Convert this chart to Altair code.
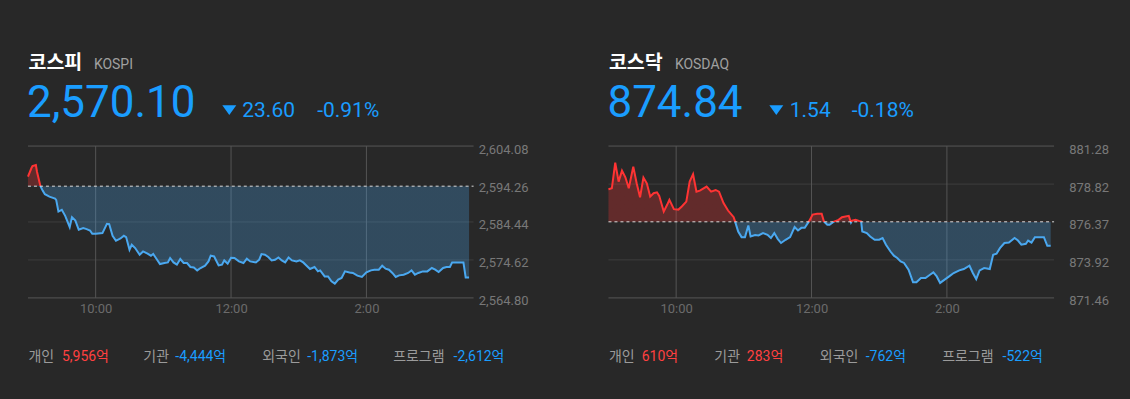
import altair as alt
import pandas as pd

BG = "#282828"
BLUE_TXT = "#1a9dff"
RED_TXT = "#ff4040"
LINE_RED = "#ff3333"
LINE_BLUE = "#4aa8f0"
NUM_FONT = "Roboto, 'Noto Sans CJK KR', sans-serif"
KR_FONT = "'Noto Sans CJK KR', sans-serif"

# ---------------- data ----------------
time_ticks = [60, 180, 300]
time_labels = ["10:00", "12:00", "2:00"]

kospi_min = [0, 3, 4, 7, 8, 11, 13, 15, 19, 24,
             25, 27, 30, 33, 37, 39, 42, 45, 49, 52,
             55, 57, 60, 66, 70, 72, 75, 78, 82, 85,
             87, 90, 92, 95, 99, 102, 106, 109, 111, 114,
             117, 121, 124, 126, 129, 132, 135, 138, 141, 144,
             147, 150, 153, 157, 160, 162, 165, 169, 172, 174,
             177, 180, 183, 187, 191, 194, 197, 202, 205, 207,
             210, 213, 216, 219, 222, 225, 228, 231, 234, 238,
             241, 244, 247, 250, 254, 257, 259, 263, 266, 269,
             272, 275, 278, 281, 285, 288, 292, 296, 300, 304,
             307, 311, 314, 317, 320, 323, 326, 329, 333, 337,
             340, 343, 346, 350, 354, 358, 361, 364, 368, 371,
             374, 376, 380, 386, 388, 391]
kospi_val = [2596.16, 2598.33, 2598.92, 2599.18, 2597.45, 2593.76, 2592.55, 2591.62, 2591.00, 2590.49,
             2590.15, 2587.14, 2587.57, 2586.03, 2583.11, 2585.69, 2584.81, 2582.42, 2582.85, 2582.60,
             2582.24, 2581.38, 2581.38, 2581.57, 2583.96, 2583.89, 2580.87, 2579.58, 2580.17, 2580.87,
             2580.53, 2577.26, 2578.55, 2577.70, 2575.97, 2576.82, 2576.23, 2575.71, 2576.15, 2574.86,
             2573.57, 2573.83, 2573.98, 2575.12, 2573.98, 2573.39, 2574.86, 2573.83, 2573.83, 2572.80,
             2572.69, 2571.92, 2572.54, 2573.13, 2574.24, 2575.71, 2575.53, 2573.21, 2573.39, 2574.50,
             2573.65, 2575.20, 2575.12, 2574.24, 2573.83, 2574.94, 2574.24, 2573.98, 2574.68, 2576.15,
             2575.97, 2575.38, 2574.50, 2574.68, 2575.27, 2574.50, 2573.98, 2575.27, 2574.50, 2574.24,
             2574.50, 2573.98, 2573.13, 2572.28, 2572.80, 2571.66, 2571.92, 2570.37, 2570.37, 2569.08,
             2568.49, 2569.52, 2569.96, 2571.66, 2571.40, 2571.25, 2570.55, 2570.22, 2571.40, 2571.92,
             2572.10, 2572.10, 2573.13, 2572.36, 2572.10, 2571.25, 2570.22, 2570.63, 2570.81, 2571.25,
             2571.92, 2570.81, 2571.25, 2571.66, 2571.66, 2572.54, 2572.10, 2571.51, 2572.54, 2572.80,
             2572.80, 2573.98, 2573.98, 2573.98, 2570.10, 2570.10]
kospi_prev = 2593.70
kospi_ticks = [2564.80, 2574.62, 2584.44, 2594.26, 2604.08]
kospi_inner_grid = [2574.62, 2584.44]
kospi_header = ["코스피", "KOSPI", "2,570.10", "23.60", "-0.91%"]

kosdaq_min = [0, 3, 6, 9, 12, 15, 18, 22, 25, 28,
              31, 34, 37, 40, 43, 45, 49, 52, 54, 58,
              62, 65, 69, 72, 75, 78, 81, 87, 91, 95,
              98, 102, 106, 111, 112, 115, 118, 121, 124, 126,
              130, 133, 137, 141, 144, 147, 150, 153, 157, 161,
              165, 168, 171, 174, 178, 181, 185, 189, 191, 194,
              196, 200, 204, 207, 213, 215, 216, 219, 222, 224,
              225, 229, 232, 236, 240, 243, 246, 250, 253, 256,
              259, 262, 266, 270, 273, 277, 281, 285, 288, 291,
              294, 298, 302, 306, 311, 315, 320, 323, 326, 329,
              333, 338, 341, 344, 347, 351, 355, 360, 363, 366,
              370, 372, 375, 378, 386, 389, 392]
kosdaq_val = [878.49, 878.55, 880.20, 878.98, 879.69, 879.26, 878.55, 879.95, 878.87, 877.97,
              879.24, 878.87, 878.01, 878.23, 878.29, 878.06, 877.04, 877.48, 877.80, 877.20,
              877.17, 877.37, 877.69, 878.98, 879.46, 878.33, 878.40, 878.66, 878.33, 878.44,
              878.33, 877.59, 877.11, 876.68, 876.46, 875.75, 875.39, 875.39, 876.14, 875.43,
              875.52, 875.50, 875.65, 875.54, 875.33, 875.65, 875.28, 875.01, 875.22, 875.39,
              876.04, 875.82, 875.99, 875.99, 876.44, 876.85, 876.90, 876.90, 876.40, 876.19,
              876.19, 876.40, 876.51, 876.68, 876.77, 876.33, 876.46, 876.51, 876.44, 876.40,
              875.75, 875.65, 875.43, 875.22, 875.22, 875.33, 874.90, 874.46, 874.19, 874.04,
              873.82, 873.72, 873.28, 872.47, 872.47, 872.75, 872.75, 872.96, 873.11, 872.85,
              872.43, 872.64, 872.85, 873.07, 873.24, 873.33, 873.54, 873.07, 872.68, 873.24,
              873.39, 873.33, 874.25, 874.32, 874.68, 875.01, 875.04, 875.33, 875.17, 874.90,
              874.96, 875.17, 875.04, 875.39, 875.39, 874.83, 874.84]
kosdaq_prev = 876.38
kosdaq_ticks = [871.46, 873.92, 876.37, 878.82, 881.28]
kosdaq_inner_grid = [873.92, 878.82]
kosdaq_header = ["코스닥", "KOSDAQ", "874.84", "1.54", "-0.18%"]

investors = ["개인", "기관", "외국인", "프로그램"]
kospi_flow = [5956, -4444, -1873, -2612]
kosdaq_flow = [610, 283, -762, -522]

# ---------------- layout ----------------
W, H = 446, 152
TOP = 146
LEFT = 27.5
SPACING = 135

one = pd.DataFrame({"k": [0]})


def txt(s, x, y, size, color, font=NUM_FONT, weight="normal"):
    return alt.Chart(one).mark_text(
        text=s, align="left", baseline="alphabetic", fontSize=size,
        color=color, font=font, fontWeight=weight
    ).encode(x=alt.value(x), y=alt.value(y))


def panel(mins, vals, prev, ticks, inner, header, flows, hpos, flab, fval, with_bg):
    df = pd.DataFrame({"t": mins, "v": vals})
    df["base"] = prev
    vmax, vmin = max(vals), min(vals)
    f = (vmax - prev) / (vmax - min(vmin, prev))
    f = min(max(f, 0.0), 1.0)

    def grad(c_up, c_dn):
        return alt.LinearGradient(
            gradient="linear", x1=0, x2=0, y1=0, y2=1,
            stops=[alt.GradientStop(color=c_up, offset=0),
                   alt.GradientStop(color=c_up, offset=f),
                   alt.GradientStop(color=c_dn, offset=f),
                   alt.GradientStop(color=c_dn, offset=1)])

    xs = alt.Scale(domain=[0, 395], nice=False, zero=False)
    ys = alt.Scale(domain=[ticks[0], ticks[-1]], nice=False, zero=False)

    label_expr = " : ".join(
        f"datum.value == {v} ? '{l}'" for v, l in zip(time_ticks[:-1], time_labels[:-1])
    ) + f" : '{time_labels[-1]}'"

    x_axis = alt.Axis(
        values=time_ticks, labelExpr=label_expr, grid=False, domain=False,
        ticks=False, labelPadding=5, labelFontSize=13, labelColor="#6b6b6b",
        labelFont=NUM_FONT, labelFlush=False, title=None, zindex=1)
    y_axis = alt.Axis(
        orient="right", values=ticks, format=",.2f", grid=False, domain=False,
        ticks=False, labelPadding=54.5, labelAlign="right", labelBaseline="middle",
        labelOffset=3, labelFontSize=13, labelColor="#787878", labelFont=NUM_FONT,
        labelOverlap=False, title=None, zindex=1)

    def X(field):
        return alt.X(field, scale=xs, axis=x_axis)

    def Y(field):
        return alt.Y(field, scale=ys, axis=y_axis)

    layers = []
    if with_bg:
        layers.append(alt.Chart(one).mark_rect(color=BG).encode(
            x=alt.value(-LEFT), x2=alt.value(1130 - LEFT),
            y=alt.value(-TOP), y2=alt.value(399 - TOP)))

    layers.append(alt.Chart(pd.DataFrame({"g": inner})).mark_rule(
        color="#3d3d3d", strokeWidth=1).encode(
        y=Y("g:Q"), x=alt.value(0), x2=alt.value(W)))
    layers.append(alt.Chart(pd.DataFrame({"g": [ticks[0], ticks[-1]]})).mark_rule(
        color="#565656", strokeWidth=1).encode(
        y=Y("g:Q"), x=alt.value(0), x2=alt.value(W)))
    layers.append(alt.Chart(pd.DataFrame({"t": time_ticks})).mark_rule(
        color="#555555", strokeWidth=1).encode(
        x=X("t:Q"), y=alt.value(0), y2=alt.value(H)))

    layers.append(alt.Chart(df).mark_area(
        fill=grad(LINE_RED, LINE_BLUE), fillOpacity=0.27).encode(
        x=X("t:Q"), y=Y("v:Q"), y2="base:Q"))

    layers.append(alt.Chart(df).mark_line(
        stroke=grad(LINE_RED, LINE_BLUE), strokeWidth=2).encode(
        x=X("t:Q"), y=Y("v:Q")))

    layers.append(alt.Chart(pd.DataFrame({"v": [prev]})).mark_rule(
        color="#dcdcdc", strokeDash=[3, 3], strokeWidth=1).encode(
        y=Y("v:Q"), x=alt.value(0), x2=alt.value(W)))

    # header
    layers.append(txt(header[0], 0.5, -77.5, 19.5, "#ffffff", KR_FONT, "bold"))
    layers.append(txt(header[1], hpos[0], -77.5, 14, "#a0a0a0"))
    layers.append(txt(header[2], -1, -28.7, 44, BLUE_TXT))
    layers.append(alt.Chart(one).mark_point(
        shape="M-1,-0.7L1,-0.7L0,0.7Z", filled=True, size=196, color=BLUE_TXT,
        opacity=1, strokeWidth=0).encode(x=alt.value(hpos[1]), y=alt.value(-36)))
    layers.append(txt(header[3], hpos[2], -29.3, 21, BLUE_TXT))
    layers.append(txt(header[4], hpos[3], -29.3, 21, BLUE_TXT))

    # footer
    for name, v, lx, vx in zip(investors, flows, flab, fval):
        layers.append(txt(name, lx, 215.5, 14, "#9b9b9b", KR_FONT))
        layers.append(txt(f"{v:,}억", vx, 215.5, 14, RED_TXT if v > 0 else BLUE_TXT))

    return alt.layer(*layers).properties(width=W, height=H)


p1 = panel(kospi_min, kospi_val, kospi_prev, kospi_ticks, kospi_inner_grid,
           kospi_header, kospi_flow, [66, 201.5, 214.5, 289.5],
           [0.5, 115.5, 234.5, 365.5], [34, 147.5, 279.5, 426], True)
p2 = panel(kosdaq_min, kosdaq_val, kosdaq_prev, kosdaq_ticks, kosdaq_inner_grid,
           kosdaq_header, kosdaq_flow, [66.5, 168, 181.5, 243.5],
           [0.5, 106, 211.5, 334], [33.3, 138.5, 257.5, 394.5], False)

chart = alt.hconcat(p1, p2, spacing=SPACING, bounds="flush").properties(
    padding=0, background=BG
).configure_view(strokeWidth=0)

chart.save("out.html", embed_options={"renderer": "svg", "actions": False})
